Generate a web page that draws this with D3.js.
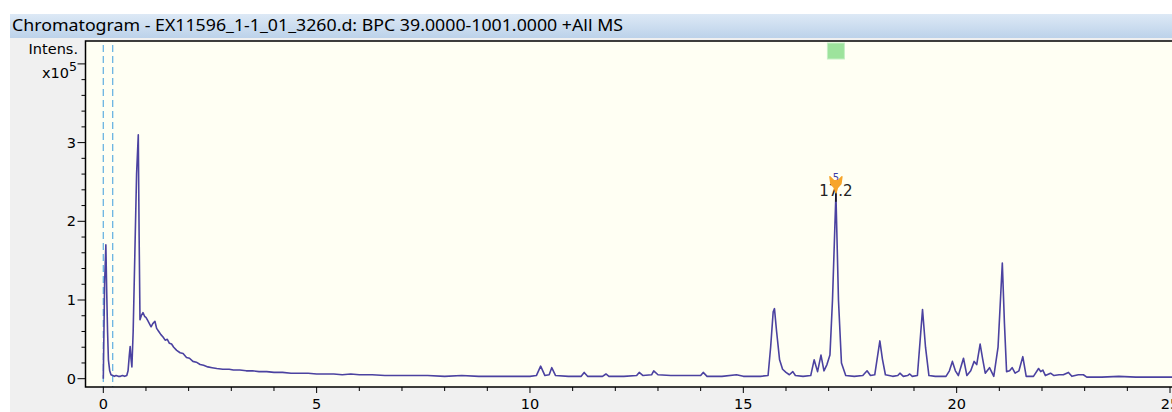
<!DOCTYPE html>
<html>
<head>
<meta charset="utf-8">
<script src="https://cdn.jsdelivr.net/npm/d3@7"></script>
<style>
  html, body { margin: 0; padding: 0; background: #fff; }
  svg { display: block; font-family: "DejaVu Sans", "Noto Sans", sans-serif; }
</style>
</head>
<body>
<div id="chart"></div>
<script>
/* Chromatogram values (time in min, intensity in 1e5). */
const times = [
  0.00, 0.03, 0.06, 0.08, 0.10, 0.12, 0.15, 0.18, 0.22, 0.26, 0.30, 0.35, 0.40, 0.45, 0.50, 0.55,
  0.58, 0.61, 0.63, 0.65, 0.67, 0.70, 0.74, 0.78, 0.82, 0.84, 0.86, 0.89, 0.93, 0.97, 1.00, 1.04,
  1.08, 1.12, 1.16, 1.21, 1.25, 1.30, 1.35, 1.40, 1.45, 1.50, 1.55, 1.60, 1.65, 1.72, 1.80, 1.87,
  1.95, 2.02, 2.10, 2.18, 2.27, 2.35, 2.45, 2.55, 2.66, 2.80, 2.95, 3.05, 3.20, 3.35, 3.50, 3.65,
  3.83, 4.00, 4.20, 4.40, 4.61, 4.80, 5.00, 5.20, 5.40, 5.60, 5.80, 6.00, 6.30, 6.60, 6.95, 7.30,
  7.60, 8.00, 8.40, 8.80, 9.20, 9.60, 10.00, 10.15, 10.25, 10.35, 10.45, 10.51, 10.60, 10.90, 11.20, 11.27,
  11.35, 11.70, 11.78, 11.85, 12.20, 12.50, 12.56, 12.65, 12.85, 12.90, 13.00, 13.30, 13.70, 14.00, 14.06, 14.15,
  14.50, 14.84, 15.00, 15.40, 15.58, 15.64, 15.70, 15.73, 15.78, 15.85, 15.92, 16.00, 16.08, 16.16, 16.22, 16.40,
  16.58, 16.66, 16.74, 16.82, 16.89, 16.96, 17.03, 17.09, 17.17, 17.23, 17.30, 17.40, 17.60, 17.80, 17.90, 17.98,
  18.08, 18.20, 18.26, 18.33, 18.50, 18.62, 18.67, 18.75, 18.85, 18.90, 18.96, 19.08, 19.20, 19.27, 19.35, 19.50,
  19.75, 19.83, 19.90, 19.97, 20.04, 20.16, 20.24, 20.33, 20.41, 20.47, 20.55, 20.61, 20.67, 20.77, 20.87, 20.97,
  21.07, 21.12, 21.17, 21.24, 21.30, 21.37, 21.46, 21.55, 21.63, 21.80, 21.92, 21.97, 22.02, 22.08, 22.20, 22.28,
  22.40, 22.50, 22.62, 22.70, 22.85, 22.97, 23.05, 23.40, 23.80, 24.20, 24.60, 25.00, 25.30
];
const intensities = [
  0.00, 1.20, 1.70, 1.10, 0.60, 0.24, 0.10, 0.05, 0.04, 0.03, 0.04, 0.03, 0.03, 0.04, 0.03, 0.04,
  0.10, 0.30, 0.41, 0.25, 0.15, 0.60, 1.60, 2.60, 3.10, 1.80, 0.75, 0.80, 0.84, 0.79, 0.78, 0.74,
  0.70, 0.66, 0.70, 0.73, 0.64, 0.60, 0.56, 0.53, 0.49, 0.50, 0.45, 0.44, 0.40, 0.36, 0.33, 0.32,
  0.27, 0.26, 0.22, 0.21, 0.18, 0.17, 0.15, 0.14, 0.13, 0.12, 0.12, 0.11, 0.11, 0.10, 0.10, 0.09,
  0.09, 0.08, 0.08, 0.07, 0.07, 0.07, 0.06, 0.06, 0.06, 0.05, 0.06, 0.05, 0.05, 0.04, 0.04, 0.04,
  0.04, 0.03, 0.04, 0.03, 0.03, 0.03, 0.03, 0.04, 0.16, 0.04, 0.05, 0.14, 0.04, 0.03, 0.03, 0.08,
  0.03, 0.03, 0.06, 0.03, 0.03, 0.04, 0.08, 0.04, 0.05, 0.10, 0.05, 0.04, 0.04, 0.04, 0.08, 0.03,
  0.03, 0.05, 0.03, 0.03, 0.04, 0.40, 0.85, 0.89, 0.60, 0.24, 0.12, 0.08, 0.05, 0.09, 0.04, 0.03,
  0.04, 0.24, 0.09, 0.30, 0.10, 0.18, 0.30, 1.00, 2.35, 1.00, 0.20, 0.04, 0.03, 0.04, 0.10, 0.04,
  0.05, 0.48, 0.25, 0.05, 0.03, 0.04, 0.07, 0.03, 0.04, 0.06, 0.03, 0.04, 0.88, 0.40, 0.04, 0.03,
  0.03, 0.10, 0.22, 0.10, 0.04, 0.26, 0.04, 0.10, 0.22, 0.18, 0.44, 0.25, 0.07, 0.14, 0.03, 0.40,
  1.47, 0.70, 0.09, 0.10, 0.14, 0.07, 0.10, 0.28, 0.03, 0.03, 0.13, 0.09, 0.11, 0.04, 0.07, 0.04,
  0.05, 0.05, 0.08, 0.03, 0.05, 0.05, 0.02, 0.02, 0.03, 0.02, 0.02, 0.02, 0.02
];

/* Axis ticks and annotations. */
const xMajorTicks = [0, 5, 10, 15, 20, 25];
const xMinorTicks = d3.range(0, 26, 1);
const yMajorTicks = [0, 1, 2, 3];
const yMinorTicks = d3.range(0, 4.01, 0.2);
const dashedMarks = [0.0, 0.22];
const peakTime = 17.17;
const peakValue = 2.35;
const peakLabel = "17.2";
const titleText = "Chromatogram - EX11596_1-1_01_3260.d: BPC 39.0000-1001.0000 +All MS";

/* Chart geometry. */
const W = 1172, H = 412;
const plot = { left: 85.5, top: 41, bottom: 387, right: 1180 };

const x = d3.scaleLinear().domain([0, 25]).range([103.3, 1170]);
const y = d3.scaleLinear().domain([0, 4]).range([378.7, 63.9]);

const svg = d3.select("#chart").append("svg")
  .attr("width", W)
  .attr("height", H);

const defs = svg.append("defs");
const grad = defs.append("linearGradient")
  .attr("id", "titleGrad")
  .attr("x1", "0%").attr("y1", "0%")
  .attr("x2", "0%").attr("y2", "100%");
grad.append("stop").attr("offset", "0%").attr("stop-color", "#dde9f6");
grad.append("stop").attr("offset", "100%").attr("stop-color", "#bcd2ea");

defs.append("clipPath").attr("id", "plotClip")
  .append("rect")
  .attr("x", plot.left).attr("y", plot.top)
  .attr("width", plot.right - plot.left).attr("height", plot.bottom - plot.top);

/* Window panel and title bar. */
svg.append("rect")
  .attr("x", 10).attr("y", 14)
  .attr("width", W - 10).attr("height", H - 14)
  .attr("fill", "#f0f0f0");
svg.append("rect")
  .attr("x", 10).attr("y", 14)
  .attr("width", W - 10).attr("height", 24)
  .attr("fill", "url(#titleGrad)");
svg.append("text")
  .attr("x", 12).attr("y", 31)
  .attr("font-family", "Noto Sans")
  .attr("font-size", 16.5)
  .attr("textLength", 611)
  .attr("lengthAdjust", "spacingAndGlyphs")
  .attr("fill", "#000")
  .text(titleText);

/* Plot background. */
svg.append("rect")
  .attr("x", plot.left).attr("y", plot.top)
  .attr("width", plot.right - plot.left).attr("height", plot.bottom - plot.top)
  .attr("fill", "#fffff3");

const inner = svg.append("g").attr("clip-path", "url(#plotClip)");

/* Dashed vertical markers. */
inner.selectAll("line.mark")
  .data(dashedMarks)
  .enter()
  .append("line")
  .attr("class", "mark")
  .attr("x1", d => x(d)).attr("x2", d => x(d))
  .attr("y1", plot.top + 4).attr("y2", plot.bottom)
  .attr("stroke", "#6ab4e2")
  .attr("stroke-width", 1.3)
  .attr("stroke-dasharray", "7,4");

/* The trace. */
const line = d3.line()
  .x(i => x(times[i]))
  .y(i => y(intensities[i]));

inner.append("path")
  .attr("d", line(d3.range(times.length)))
  .attr("fill", "none")
  .attr("stroke", "#4b42a0")
  .attr("stroke-width", 1.6)
  .attr("stroke-linejoin", "round");

/* Green square above the labelled peak. */
inner.append("rect")
  .attr("x", x(peakTime) - 8.5).attr("y", 43)
  .attr("width", 17).attr("height", 16)
  .attr("fill", "#9de39c")
  .attr("stroke", "#c5efc4")
  .attr("stroke-width", 1);

/* Peak annotation. */
const px = x(peakTime), py = y(peakValue);
inner.append("line")
  .attr("x1", px).attr("x2", px)
  .attr("y1", py - 10).attr("y2", py + 8)
  .attr("stroke", "#111")
  .attr("stroke-width", 1.5);
inner.append("text")
  .attr("x", px).attr("y", py + 2)
  .attr("text-anchor", "middle")
  .attr("font-size", 15)
  .attr("fill", "#222")
  .text(peakLabel);
inner.append("text")
  .attr("x", px).attr("y", py - 13)
  .attr("text-anchor", "middle")
  .attr("font-size", 10)
  .attr("fill", "#3c3ca8")
  .text("5");
inner.append("path")
  .attr("d", d3.line()([
    [px - 6, py - 17], [px - 2, py - 13], [px + 2, py - 13], [px + 6, py - 17],
    [px + 5, py - 10], [px + 1.5, py - 6], [px, py - 1], [px - 1.5, py - 6], [px - 5, py - 10]
  ]) + "Z")
  .attr("fill", "#f7a52a")
  .attr("stroke", "#f7a52a")
  .attr("stroke-width", 1.5)
  .attr("stroke-linejoin", "round");

/* Axis frame. */
svg.append("path")
  .attr("d", `M${plot.right},${plot.top}H${plot.left}V${plot.bottom}H${plot.right}`)
  .attr("fill", "none")
  .attr("stroke", "#000")
  .attr("stroke-width", 1.5);

/* X axis ticks and labels. */
const xAxis = svg.append("g");
xAxis.selectAll("line")
  .data(xMinorTicks)
  .enter()
  .append("line")
  .attr("x1", d => x(d)).attr("x2", d => x(d))
  .attr("y1", plot.bottom).attr("y2", d => plot.bottom + (d % 5 === 0 ? 6 : 4))
  .attr("stroke", "#000");
xAxis.selectAll("text")
  .data(xMajorTicks)
  .enter()
  .append("text")
  .attr("x", d => x(d)).attr("y", 409)
  .attr("text-anchor", "middle")
  .attr("font-size", 14.5)
  .text(d => d);

/* Y axis ticks and labels. */
const yAxis = svg.append("g");
yAxis.selectAll("line")
  .data(yMinorTicks)
  .enter()
  .append("line")
  .attr("x1", plot.left).attr("x2", d => plot.left - (Math.abs(d - Math.round(d)) < 1e-6 ? 8 : 4))
  .attr("y1", d => y(d)).attr("y2", d => y(d))
  .attr("stroke", "#000");
yAxis.selectAll("text")
  .data(yMajorTicks)
  .enter()
  .append("text")
  .attr("x", 76).attr("y", d => y(d) + 5)
  .attr("text-anchor", "end")
  .attr("font-size", 14.5)
  .text(d => d);

/* Axis unit label. */
svg.append("text")
  .attr("x", 78).attr("y", 54)
  .attr("text-anchor", "end")
  .attr("font-size", 14.5)
  .text("Intens.");
const unit = svg.append("text")
  .attr("x", 77).attr("y", 78)
  .attr("text-anchor", "end")
  .attr("font-size", 14.5);
unit.append("tspan").text("x10");
unit.append("tspan").attr("dy", -7).attr("font-size", 12.5).text("5");
</script>
</body>
</html>
